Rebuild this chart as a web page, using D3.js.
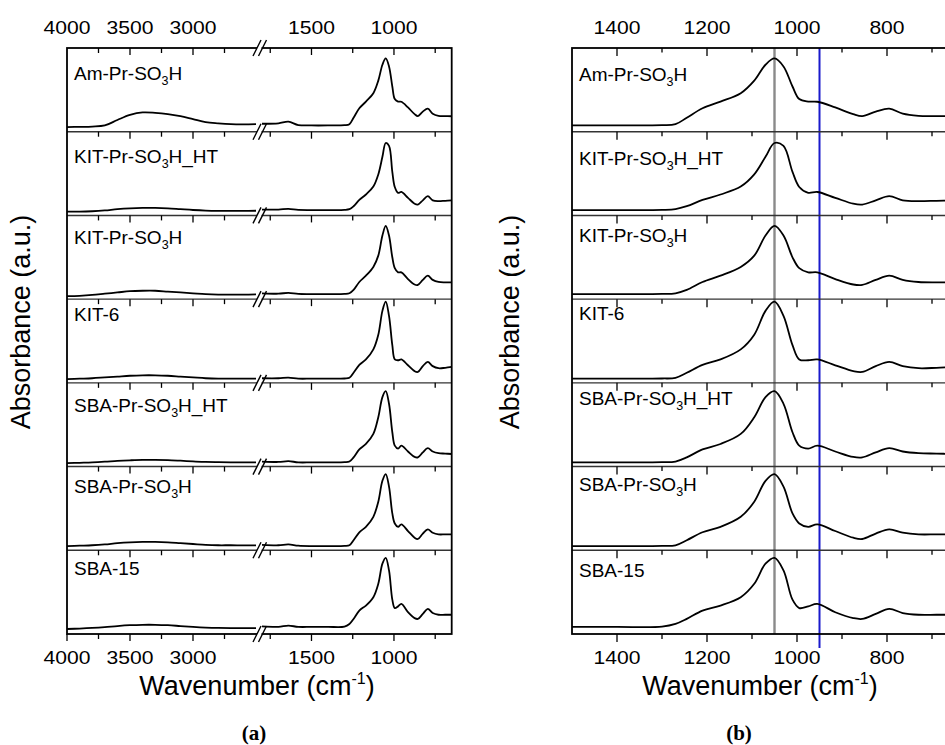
<!DOCTYPE html>
<html>
<head>
<meta charset="utf-8">
<script src="https://cdn.jsdelivr.net/npm/d3@7"></script>
<style>
  body { margin: 0; background: #fff; }
  text { font-family: "Liberation Sans", Arial, sans-serif; fill: #000; }
</style>
</head>
<body>
<svg id="fig" width="945" height="745"></svg>
<script>
// ---- data -------------------------------------------------------------
// sample names (text, subscript, text)
const sampleLabels = [
  ["Am-Pr-SO", "3", "H"],
  ["KIT-Pr-SO", "3", "H_HT"],
  ["KIT-Pr-SO", "3", "H"],
  ["KIT-6"],
  ["SBA-Pr-SO", "3", "H_HT"],
  ["SBA-Pr-SO", "3", "H"],
  ["SBA-15"]
];

// wavenumber grids (cm-1)
const wnHigh = [4000, 3900, 3800, 3700, 3600, 3500, 3400, 3300, 3200, 3100, 3000, 2900, 2800, 2700, 2600, 2500];
const wnLow = [1800, 1700, 1640, 1580, 1500, 1400, 1300, 1270, 1245, 1210, 1170, 1125, 1095, 1070, 1050, 1030,
               1010, 995, 975, 955, 915, 875, 855, 825, 795, 765, 730, 690, 650];

// normalised absorbance, O-H stretching region
const amPrHigh   = [0.055, 0.058, 0.062, 0.075, 0.14, 0.20, 0.23, 0.225, 0.21, 0.185, 0.15, 0.115, 0.10, 0.09, 0.088, 0.09];
const kitPrHTHigh = [0.045, 0.045, 0.05, 0.06, 0.075, 0.085, 0.09, 0.09, 0.085, 0.075, 0.065, 0.058, 0.055, 0.055, 0.055, 0.056];
const kitPrHigh  = [0.035, 0.04, 0.05, 0.065, 0.08, 0.095, 0.10, 0.10, 0.09, 0.08, 0.07, 0.06, 0.055, 0.055, 0.055, 0.058];
const kit6High   = [0.045, 0.05, 0.055, 0.065, 0.075, 0.085, 0.09, 0.09, 0.085, 0.075, 0.065, 0.055, 0.05, 0.05, 0.05, 0.05];
const sbaPrHTHigh = [0.04, 0.045, 0.05, 0.058, 0.068, 0.075, 0.08, 0.08, 0.077, 0.07, 0.062, 0.055, 0.052, 0.05, 0.05, 0.05];
const sbaPrHigh  = [0.05, 0.055, 0.06, 0.07, 0.085, 0.095, 0.10, 0.10, 0.095, 0.085, 0.075, 0.065, 0.06, 0.06, 0.058, 0.058];
const sba15High  = [0.06, 0.065, 0.072, 0.082, 0.095, 0.105, 0.11, 0.11, 0.105, 0.095, 0.085, 0.077, 0.072, 0.07, 0.07, 0.07];

// normalised absorbance, fingerprint region
const amPrLow    = [0.095, 0.10, 0.12, 0.08, 0.075, 0.075, 0.078, 0.09, 0.167, 0.28, 0.36, 0.46, 0.61, 0.80, 0.875, 0.78,
                    0.54, 0.39, 0.36, 0.358, 0.29, 0.21, 0.187, 0.24, 0.275, 0.215, 0.19, 0.187, 0.185];
const kitPrHTLow = [0.07, 0.07, 0.078, 0.066, 0.064, 0.064, 0.066, 0.075, 0.11, 0.185, 0.25, 0.345, 0.49, 0.70, 0.865, 0.83,
                    0.52, 0.34, 0.27, 0.28, 0.21, 0.14, 0.13, 0.18, 0.23, 0.18, 0.17, 0.175, 0.18];
const kitPrLow   = [0.07, 0.065, 0.075, 0.062, 0.06, 0.06, 0.062, 0.07, 0.11, 0.205, 0.28, 0.385, 0.52, 0.76, 0.875, 0.76,
                    0.50, 0.37, 0.32, 0.32, 0.24, 0.175, 0.17, 0.23, 0.28, 0.23, 0.205, 0.20, 0.20];
const kit6Low    = [0.055, 0.055, 0.062, 0.05, 0.05, 0.05, 0.052, 0.06, 0.12, 0.215, 0.28, 0.40, 0.575, 0.86, 0.97, 0.80,
                    0.45, 0.28, 0.27, 0.28, 0.21, 0.14, 0.13, 0.20, 0.25, 0.20, 0.175, 0.18, 0.19];
const sbaPrHTLow = [0.06, 0.055, 0.065, 0.05, 0.05, 0.05, 0.052, 0.06, 0.11, 0.205, 0.27, 0.39, 0.59, 0.83, 0.90, 0.75,
                    0.41, 0.25, 0.215, 0.25, 0.18, 0.115, 0.11, 0.17, 0.22, 0.18, 0.16, 0.155, 0.15];
const sbaPrLow   = [0.065, 0.06, 0.07, 0.055, 0.05, 0.05, 0.052, 0.06, 0.12, 0.215, 0.28, 0.40, 0.58, 0.83, 0.91, 0.76,
                    0.44, 0.32, 0.28, 0.31, 0.23, 0.15, 0.135, 0.20, 0.25, 0.21, 0.19, 0.19, 0.19];
const sba15Low   = [0.09, 0.085, 0.10, 0.085, 0.085, 0.085, 0.088, 0.12, 0.18, 0.28, 0.34, 0.44, 0.60, 0.84, 0.91, 0.76,
                    0.41, 0.31, 0.33, 0.36, 0.26, 0.19, 0.18, 0.24, 0.30, 0.25, 0.23, 0.23, 0.23];

const highSeries = [amPrHigh, kitPrHTHigh, kitPrHigh, kit6High, sbaPrHTHigh, sbaPrHigh, sba15High];
const lowSeries  = [amPrLow, kitPrHTLow, kitPrLow, kit6Low, sbaPrHTLow, sbaPrLow, sba15Low];

// axis ticks
const ticksAHighMajor = [4000, 3500, 3000];
const ticksAHighMinor = [3750, 3250, 2750];
const ticksALowMajor  = [1500, 1000];
const ticksALowMinor  = [1750, 1250, 750];
const ticksBMajor = [1400, 1200, 1000, 800];
const ticksBMinor = [1300, 1100, 900, 700];

// marker lines in the zoomed panel (cm-1)
const markerGrey = 1050;
const markerBlue = 950;

// ---- layout -----------------------------------------------------------
const svg = d3.select("#fig");
const plotTop = 48, plotBottom = 634;
const nSub = sampleLabels.length;
const subH = (plotBottom - plotTop) / nSub;
const labelOffsetA = [31.5, 31, 29, 22, 29, 26, 25];
const labelOffsetB = [33, 33, 27, 21, 22, 24, 27];

const xAHigh = d3.scaleLinear().domain([4000, 2500]).range([67, 256]);
const xALow  = d3.scaleLinear().domain([1800, 650]).range([262, 451.7]);
const xB     = d3.scaleLinear().domain([1500, 650]).range([572, 954.5]);
const yFor = i => d3.scaleLinear().domain([0, 1]).range([plotTop + (i + 1) * subH, plotTop + i * subH]);

const lineGen = (xs, y) => d3.line()
  .x(d => xs(d[0])).y(d => y(d[1]))
  .curve(d3.curveCatmullRom.alpha(0.5));

function sampleLabel(g, x, y, parts) {
  const t = g.append("text").attr("x", x).attr("y", y).attr("font-size", 19);
  t.append("tspan").text(parts[0]);
  if (parts.length > 1) {
    t.append("tspan").attr("font-size", 12.5).attr("dy", 5).text(parts[1]);
    t.append("tspan").attr("dy", -5).text(parts[2]);
  }
}

function tickRow(g, scale, values, y, len, dir) {
  // dir = 1 → downward ticks
  g.selectAll(null).data(values).join("line")
    .attr("x1", d => scale(d)).attr("x2", d => scale(d))
    .attr("y1", y).attr("y2", y + dir * len)
    .attr("stroke", "#000").attr("stroke-width", 1.3);
}

function axisLabels(g, scale, values, y) {
  g.selectAll(null).data(values).join("text")
    .attr("x", d => scale(d)).attr("y", y)
    .attr("text-anchor", "middle").attr("font-size", 19)
    .text(d => d)
    .each(function () {
      // slightly wide digits
      const w = this.getComputedTextLength();
      d3.select(this).attr("textLength", w * 1.11).attr("lengthAdjust", "spacingAndGlyphs");
    });
}

function xTitle(g, cx) {
  const t = g.append("text").attr("x", cx).attr("y", 695)
    .attr("text-anchor", "middle").attr("font-size", 27);
  t.append("tspan").text("Wavenumber (cm");
  t.append("tspan").attr("font-size", 16).attr("dy", -11).text("-1");
  t.append("tspan").attr("dy", 11).text(")");
}

function yTitle(g, cx, cy) {
  g.append("text").attr("transform", `translate(${cx},${cy}) rotate(-90)`)
    .attr("text-anchor", "middle").attr("font-size", 27)
    .text("Absorbance (a.u.)");
}

function panelLetter(g, cx, letter) {
  g.append("text").attr("x", cx).attr("y", 740).attr("text-anchor", "middle")
    .style("font-family", "'Liberation Serif', 'Times New Roman', serif")
    .attr("font-weight", "bold").attr("font-size", 21)
    .text(`(${letter})`);
}

// ---- panel (a): full range with axis break ---------------------------
const gA = svg.append("g");
for (let i = 0; i < nSub; i++) {
  const y = yFor(i);
  gA.append("path")
    .datum(wnHigh.map((w, k) => [w, highSeries[i][k]]))
    .attr("d", lineGen(xAHigh, y))
    .attr("fill", "none").attr("stroke", "#000").attr("stroke-width", 1.8);
  gA.append("path")
    .datum(wnLow.map((w, k) => [w, lowSeries[i][k]]))
    .attr("d", lineGen(xALow, y))
    .attr("fill", "none").attr("stroke", "#000").attr("stroke-width", 1.8);
}
// dividers and inward ticks on the top edge of every strip
for (let i = 0; i < nSub; i++) {
  const yT = plotTop + i * subH;
  if (i > 0) gA.append("line").attr("x1", 67).attr("x2", 451.7).attr("y1", yT).attr("y2", yT)
    .attr("stroke", "#333").attr("stroke-width", 1.4);
  tickRow(gA, xAHigh, ticksAHighMajor.slice(1), yT, 7, 1);
  tickRow(gA, xAHigh, ticksAHighMinor, yT, 5, 1);
  tickRow(gA, xALow, ticksALowMajor, yT, 7, 1);
  tickRow(gA, xALow, ticksALowMinor, yT, 5, 1);
}
// bottom outward ticks
tickRow(gA, xAHigh, ticksAHighMajor, plotBottom, 7, 1);
tickRow(gA, xAHigh, ticksAHighMinor, plotBottom, 5, 1);
tickRow(gA, xALow, ticksALowMajor, plotBottom, 7, 1);
tickRow(gA, xALow, ticksALowMinor, plotBottom, 5, 1);
gA.append("rect").attr("x", 67).attr("y", plotTop).attr("width", 451.7 - 67).attr("height", plotBottom - plotTop)
  .attr("fill", "none").attr("stroke", "#000").attr("stroke-width", 1.8);
// axis-break marks on each horizontal edge
for (let i = 0; i <= nSub; i++) {
  const yT = plotTop + i * subH;
  gA.append("rect").attr("x", 257).attr("y", yT - 2).attr("width", 4.5).attr("height", 4).attr("fill", "#fff");
  [257, 262.5].forEach(xc => {
    gA.append("line").attr("x1", xc - 4).attr("y1", yT + 8).attr("x2", xc + 4).attr("y2", yT - 8)
      .attr("stroke", "#000").attr("stroke-width", 1.4);
  });
}
axisLabels(gA, xAHigh, ticksAHighMajor, 34);
axisLabels(gA, xALow, ticksALowMajor, 34);
axisLabels(gA, xAHigh, ticksAHighMajor, 664);
axisLabels(gA, xALow, ticksALowMajor, 664);
for (let i = 0; i < nSub; i++) sampleLabel(gA, 74, plotTop + i * subH + labelOffsetA[i], sampleLabels[i]);
xTitle(gA, 257);
yTitle(gA, 30, 322);
panelLetter(gA, 254, "a");

// ---- panel (b): Si-O region ------------------------------------------
const gB = svg.append("g");
gB.append("line").attr("x1", xB(markerGrey)).attr("x2", xB(markerGrey)).attr("y1", plotTop).attr("y2", plotBottom)
  .attr("stroke", "#8a8a8a").attr("stroke-width", 2.4);
gB.append("line").attr("x1", xB(markerBlue)).attr("x2", xB(markerBlue)).attr("y1", plotTop).attr("y2", plotBottom + 14)
  .attr("stroke", "#1a1acc").attr("stroke-width", 2);
for (let i = 0; i < nSub; i++) {
  const y = yFor(i);
  gB.append("path")
    .datum(wnLow.map((w, k) => [w, lowSeries[i][k]]).filter(d => d[0] <= 1500))
    .attr("d", lineGen(xB, y))
    .attr("fill", "none").attr("stroke", "#000").attr("stroke-width", 1.8);
}
for (let i = 0; i < nSub; i++) {
  const yT = plotTop + i * subH;
  if (i > 0) gB.append("line").attr("x1", 572).attr("x2", 954.5).attr("y1", yT).attr("y2", yT)
    .attr("stroke", "#333").attr("stroke-width", 1.4);
  tickRow(gB, xB, ticksBMajor, yT, 8, 1);
  tickRow(gB, xB, ticksBMinor, yT, 4.5, 1);
}
tickRow(gB, xB, ticksBMajor, plotBottom, 8, 1);
tickRow(gB, xB, ticksBMinor, plotBottom, 5, 1);
gB.append("rect").attr("x", 572).attr("y", plotTop).attr("width", 954.5 - 572).attr("height", plotBottom - plotTop)
  .attr("fill", "none").attr("stroke", "#000").attr("stroke-width", 1.8);
axisLabels(gB, xB, ticksBMajor, 34);
axisLabels(gB, xB, ticksBMajor, 664);
for (let i = 0; i < nSub; i++) sampleLabel(gB, 579, plotTop + i * subH + labelOffsetB[i], sampleLabels[i]);
xTitle(gB, 760);
yTitle(gB, 519, 322);
panelLetter(gB, 739, "b");
</script>
</body>
</html>
